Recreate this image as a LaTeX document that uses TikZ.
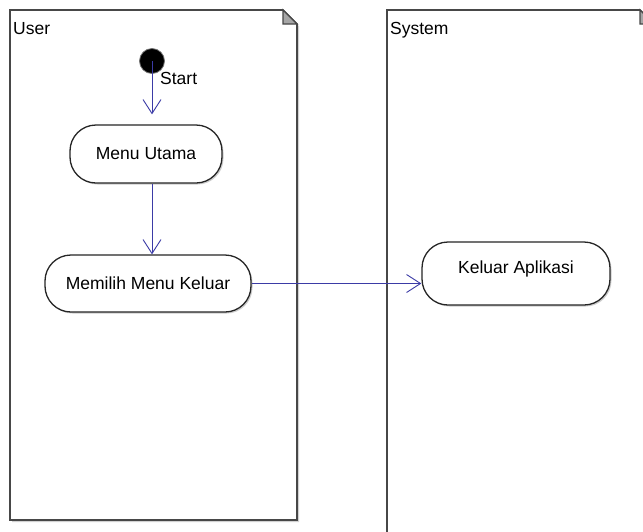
\documentclass[tikz,border=0pt]{standalone}
\usepackage{fontspec}
\setmainfont{Liberation Sans}
\usetikzlibrary{arrows.meta,shadows}
\definecolor{LaneGray}{HTML}{474747}
\definecolor{FlowBlue}{HTML}{3B3BA6}

\begin{document}
\begin{tikzpicture}[
  x=1pt, y=-1pt,
  font=\fontsize{17.5}{20}\selectfont,
  lane/.style={draw=LaneGray, line width=1.6pt, fill=white, drop shadow={shadow xshift=2pt, shadow yshift=-2pt, fill=black!18, opacity=1}},
  fold/.style={draw=LaneGray, line width=1.2pt, fill=black!35},
  action/.style={draw=black!85, line width=1.3pt, fill=white, rounded corners=26pt, inner sep=0pt, drop shadow={shadow xshift=1.5pt, shadow yshift=-1.5pt, fill=black!20, opacity=1}},
  flow/.style={draw=FlowBlue, line width=0.9pt, -{Straight Barb[length=14pt, width=18pt, line width=0.9pt]}}
]
\useasboundingbox (0,0) rectangle (643,531);
\fill[white] (0,0) rectangle (643,531);
\draw[lane] (10,10) -- (283,10) -- (297,24) -- (297,520) -- (10,520) -- cycle;
\draw[fold] (283,10) -- (283,24) -- (297,24) -- cycle;
\draw[lane] (387,10) -- (640,10) -- (654,24) -- (654,560) -- (387,560) -- cycle;
\draw[fold] (640,10) -- (640,24) -- (654,24) -- cycle;
\node[anchor=base west, inner sep=0pt] (userLabel) at (13,34) {User};
\node[anchor=base west, inner sep=0pt] (systemLabel) at (390,34) {System};
\node[circle, fill=black, draw=black!55, line width=0.8pt, minimum size=25pt, inner sep=0pt] (start) at (152,61) {};
\node[anchor=west, inner sep=0pt] (startLabel) at (160,78) {Start};
\node[action, minimum width=152pt, minimum height=58pt] (menuUtama) at (146,154) {Menu Utama};
\node[action, minimum width=206pt, minimum height=57pt] (pilihKeluar) at (148,283.5) {Memilih Menu Keluar};
\node[action, minimum width=188pt, minimum height=63pt, text depth=12pt] (keluarApp) at (516,273.5) {Keluar Aplikasi};
\draw[flow, shorten >=10pt] (start.center) -- (start |- menuUtama.north);
\draw[flow] (menuUtama.south -| start) -- (pilihKeluar.north -| start);
\draw[flow] (pilihKeluar.east) -- (pilihKeluar.east -| keluarApp.west);
\end{tikzpicture}
\end{document}
